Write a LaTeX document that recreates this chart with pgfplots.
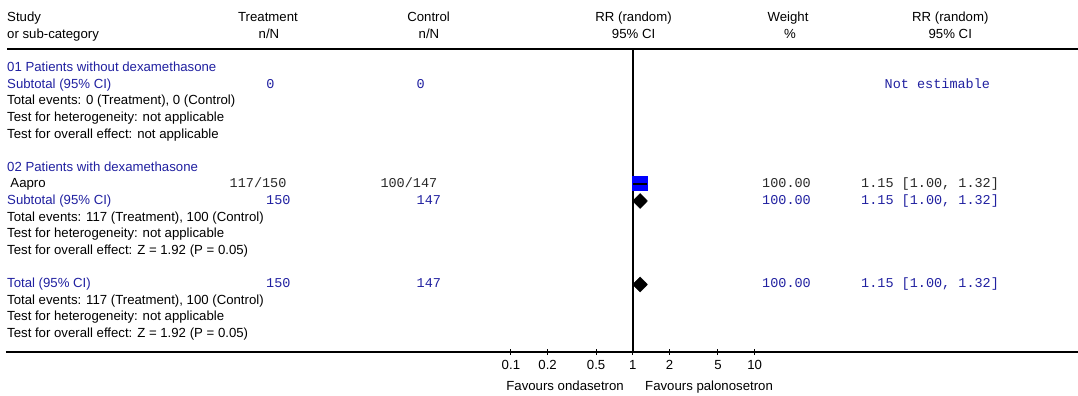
\documentclass[border=0pt]{standalone}
\usepackage{fontspec}
\setmainfont{Liberation Sans}
\setmonofont{Liberation Mono}
\usepackage{pgfplots}
\pgfplotsset{compat=1.18}
\definecolor{navy}{RGB}{32,32,160}
\definecolor{monoblack}{RGB}{40,40,40}
\newcommand\tf{\fontsize{13.2bp}{15bp}\selectfont}
\newcommand\mf{\ttfamily\fontsize{13.5bp}{15bp}\selectfont}
\begin{document}
\begin{tikzpicture}[
 lt/.style={anchor=base west, inner sep=0pt, font=\tf},
 ct/.style={anchor=base, inner sep=0pt, font=\tf},
 mt/.style={anchor=base west, inner sep=0pt, font=\mf},
 mc/.style={anchor=base, inner sep=0pt, font=\mf},
 ]
\useasboundingbox (0,0) rectangle (1078bp,396bp);
% text layer: pixel coordinates, y measured downward as negative
\begin{axis}[at={(0,0)}, anchor=south west, width=1078bp, height=396bp,
  scale only axis, xmin=0, xmax=1078, ymin=-396, ymax=0, hide axis, clip=false]
 % headers
 \node[lt] at (axis cs:7,-21.7) {Study};
 \node[lt] at (axis cs:7,-38.2) {or sub-category};
 \node[ct] at (axis cs:268,-21.7) {Treatment};
 \node[ct] at (axis cs:269,-38.2) {n/N};
 \node[ct] at (axis cs:428.6,-21.7) {Control};
 \node[ct] at (axis cs:429,-38.2) {n/N};
 \node[ct] at (axis cs:633.6,-21.7) {RR (random)};
 \node[ct] at (axis cs:633.6,-38.2) {95\% CI};
 \node[ct] at (axis cs:788,-21.7) {Weight};
 \node[ct] at (axis cs:790,-38.2) {\%};
 \node[ct] at (axis cs:950.3,-21.7) {RR (random)};
 \node[ct] at (axis cs:950.3,-38.2) {95\% CI};
 \addplot[black, line width=2bp] coordinates {(7,-49) (1078,-49)};
 % group 01
 \node[lt, text=navy] at (axis cs:7,-71.7) {01 Patients without dexamethasone};
 \node[lt, text=navy] at (axis cs:7,-88.3) {Subtotal (95\% CI)};
 \node[mc, text=navy] at (axis cs:270.4,-88.3) {0};
 \node[mc, text=navy] at (axis cs:420.7,-88.3) {0};
 \node[mt, text=navy] at (axis cs:884.5,-88.3) {Not estimable};
 \node[lt] at (axis cs:7,-104.9) {Total events: 0 (Treatment), 0 (Control)};
 \node[lt] at (axis cs:7,-121.5) {Test for heterogeneity: not applicable};
 \node[lt] at (axis cs:7,-138.1) {Test for overall effect: not applicable};
 % group 02
 \node[lt, text=navy] at (axis cs:7,-171.3) {02 Patients with dexamethasone};
 \node[lt] at (axis cs:10.3,-187.9) {Aapro};
 \node[mt, text=monoblack] at (axis cs:229.5,-187.9) {117/150};
 \node[mt, text=monoblack] at (axis cs:380.3,-187.9) {100/147};
 \node[mt, text=monoblack] at (axis cs:762,-187.9) {100.00};
 \node[mt, text=monoblack] at (axis cs:861,-187.9) {1.15 [1.00, 1.32]};
 \node[lt, text=navy] at (axis cs:7,-204.5) {Subtotal (95\% CI)};
 \node[mt, text=navy] at (axis cs:266,-204.5) {150};
 \node[mt, text=navy] at (axis cs:416.5,-204.5) {147};
 \node[mt, text=navy] at (axis cs:762,-204.5) {100.00};
 \node[mt, text=navy] at (axis cs:861,-204.5) {1.15 [1.00, 1.32]};
 \node[lt] at (axis cs:7,-221.1) {Total events: 117 (Treatment), 100 (Control)};
 \node[lt] at (axis cs:7,-237.7) {Test for heterogeneity: not applicable};
 \node[lt] at (axis cs:7,-254.3) {Test for overall effect: Z = 1.92 (P = 0.05)};
 % total
 \node[lt, text=navy] at (axis cs:7,-287.5) {Total (95\% CI)};
 \node[mt, text=navy] at (axis cs:266,-287.5) {150};
 \node[mt, text=navy] at (axis cs:416.5,-287.5) {147};
 \node[mt, text=navy] at (axis cs:762,-287.5) {100.00};
 \node[mt, text=navy] at (axis cs:861,-287.5) {1.15 [1.00, 1.32]};
 \node[lt] at (axis cs:7,-304.1) {Total events: 117 (Treatment), 100 (Control)};
 \node[lt] at (axis cs:7,-320.7) {Test for heterogeneity: not applicable};
 \node[lt] at (axis cs:7,-337.3) {Test for overall effect: Z = 1.92 (P = 0.05)};
 % favours
 \node[anchor=base east, inner sep=0pt, font=\tf] at (axis cs:624,-390.7) {Favours ondasetron};
 \node[anchor=base west, inner sep=0pt, font=\tf] at (axis cs:645,-390.7) {Favours palonosetron};
\end{axis}
% forest plot layer: log scale
\begin{axis}[at={(6bp,44bp)}, anchor=south west, width=1072bp, height=303bp,
  scale only axis, xmode=log, xmin=7.18e-6, xmax=4508, ymin=-352, ymax=-49,
  axis x line=bottom, axis y line=none, x axis line style={-, line width=1.5bp},
  ytick=\empty, xtick={0.1,0.2,0.5,1,2,5,10}, xticklabels={0.1,0.2,0.5,1,2,5,10},
  minor xtick={}, tick align=center, major tick length=5bp,
  every tick/.style={black, line width=1bp},
  xticklabel style={font=\tf, inner sep=0pt, anchor=north, yshift=-5.5bp},
  clip=false]
 \addplot[black, line width=1.5bp] coordinates {(1,-49) (1,-352)};
 % Aapro: weight box and CI
 \addplot[fill=blue, draw=none] coordinates {(0.989,-176.5) (1.337,-176.5) (1.337,-191.5) (0.989,-191.5)} -- cycle;
 \addplot[black, line width=1.2bp] coordinates {(1.00,-184) (1.32,-184)};
 % subtotal diamond
 \addplot[fill=black, draw=black] coordinates {(1.00,-201) (1.15,-193.5) (1.32,-201) (1.15,-208.5)} -- cycle;
 % total diamond
 \addplot[fill=black, draw=black] coordinates {(1.00,-284.5) (1.15,-277) (1.32,-284.5) (1.15,-292)} -- cycle;
\end{axis}
\end{tikzpicture}
\end{document}
